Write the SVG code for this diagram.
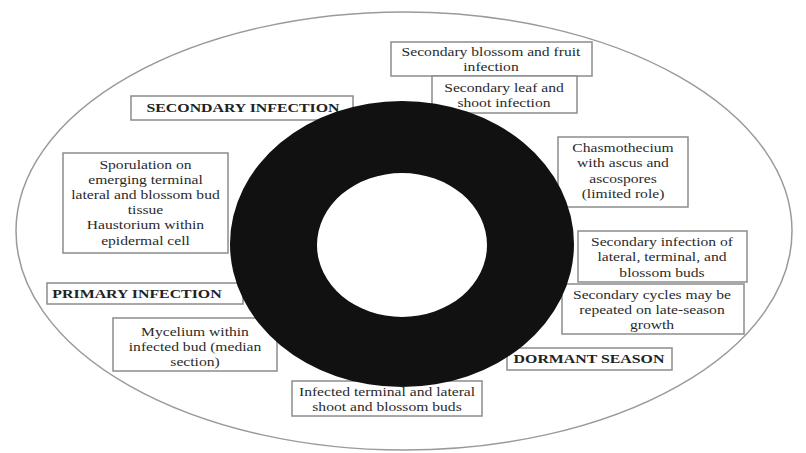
<svg xmlns="http://www.w3.org/2000/svg" width="806" height="453" viewBox="0 0 806 453">
<style>
.bx{fill:#fff;stroke:#8c8c8c;stroke-width:1.5}
.t{font-family:"Liberation Serif","Times New Roman",serif;font-size:12px;fill:#2a2a2a;text-anchor:middle}
.h{font-family:"Liberation Serif","Times New Roman",serif;font-size:11.5px;font-weight:bold;fill:#222;text-anchor:middle}
</style>
<rect width="806" height="453" fill="#fff"/>
<ellipse id="outer" cx="404" cy="231" rx="388" ry="219" fill="none" stroke="#9a9a9a" stroke-width="1.5"/>

<g id="n-blossom-fruit">
<rect class="bx" x="391" y="42" width="201" height="34"/>
<text class="t" transform="translate(491,56) scale(1.3,1)"><tspan x="0" y="0">Secondary blossom and fruit</tspan><tspan x="0" y="15">infection</tspan></text>
</g>
<g id="n-leaf-shoot">
<rect class="bx" x="432" y="76" width="145" height="37"/>
<text class="t" transform="translate(504,92) scale(1.3,1)"><tspan x="0" y="0">Secondary leaf and</tspan><tspan x="0" y="15">shoot infection</tspan></text>
</g>
<g id="n-secondary-infection">
<rect class="bx" x="131" y="96" width="222" height="24"/>
<text class="h" transform="translate(243,112) scale(1.38,1)">SECONDARY INFECTION</text>
</g>
<g id="n-sporulation">
<rect class="bx" x="63" y="153" width="165" height="100"/>
<text class="t" transform="translate(145.5,169) scale(1.3,1)"><tspan x="0" y="0">Sporulation on</tspan><tspan x="0" y="15">emerging terminal</tspan><tspan x="0" y="30.5">lateral and blossom bud</tspan><tspan x="0" y="45.5">tissue</tspan><tspan x="0" y="60.5">Haustorium within</tspan><tspan x="0" y="76">epidermal cell</tspan></text>
</g>
<g id="n-primary-infection">
<rect class="bx" x="47" y="283" width="196" height="21"/>
<text class="h" transform="translate(137,298) scale(1.38,1)">PRIMARY INFECTION</text>
</g>
<g id="n-mycelium">
<rect class="bx" x="113" y="318" width="164" height="53"/>
<text class="t" transform="translate(195,336) scale(1.3,1)"><tspan x="0" y="0">Mycelium within</tspan><tspan x="0" y="15">infected bud (median</tspan><tspan x="0" y="30">section)</tspan></text>
</g>
<g id="n-chasmothecium">
<rect class="bx" x="558" y="137" width="130" height="70"/>
<text class="t" transform="translate(623,152) scale(1.3,1)"><tspan x="0" y="0">Chasmothecium</tspan><tspan x="0" y="15.5">with ascus and</tspan><tspan x="0" y="31">ascospores</tspan><tspan x="0" y="46.5">(limited role)</tspan></text>
</g>
<g id="n-secondary-buds">
<rect class="bx" x="578" y="231" width="169" height="51"/>
<text class="t" transform="translate(662,246) scale(1.3,1)"><tspan x="0" y="0">Secondary infection of</tspan><tspan x="0" y="15.5">lateral, terminal, and</tspan><tspan x="0" y="31">blossom buds</tspan></text>
</g>
<g id="n-secondary-cycles">
<rect class="bx" x="562" y="284" width="182" height="50"/>
<text class="t" transform="translate(652,299) scale(1.3,1)"><tspan x="0" y="0">Secondary cycles may be</tspan><tspan x="0" y="15">repeated on late-season</tspan><tspan x="0" y="30">growth</tspan></text>
</g>
<g id="n-dormant-season">
<rect class="bx" x="507" y="348" width="165" height="22"/>
<text class="h" transform="translate(589,363) scale(1.38,1)">DORMANT SEASON</text>
</g>
<g id="n-infected-buds">
<rect class="bx" x="292" y="381" width="190" height="35"/>
<text class="t" transform="translate(387,396) scale(1.3,1)"><tspan x="0" y="0">Infected terminal and lateral</tspan><tspan x="0" y="15">shoot and blossom buds</tspan></text>
</g>

<g id="ring">
<path fill="#111" fill-rule="evenodd" d="M230,244 A172,143 0 1,0 574,244 A172,143 0 1,0 230,244 Z M317,245 A85,72 0 1,1 487,245 A85,72 0 1,1 317,245 Z"/>
</g>
<g id="connectors"></g>
</svg>
